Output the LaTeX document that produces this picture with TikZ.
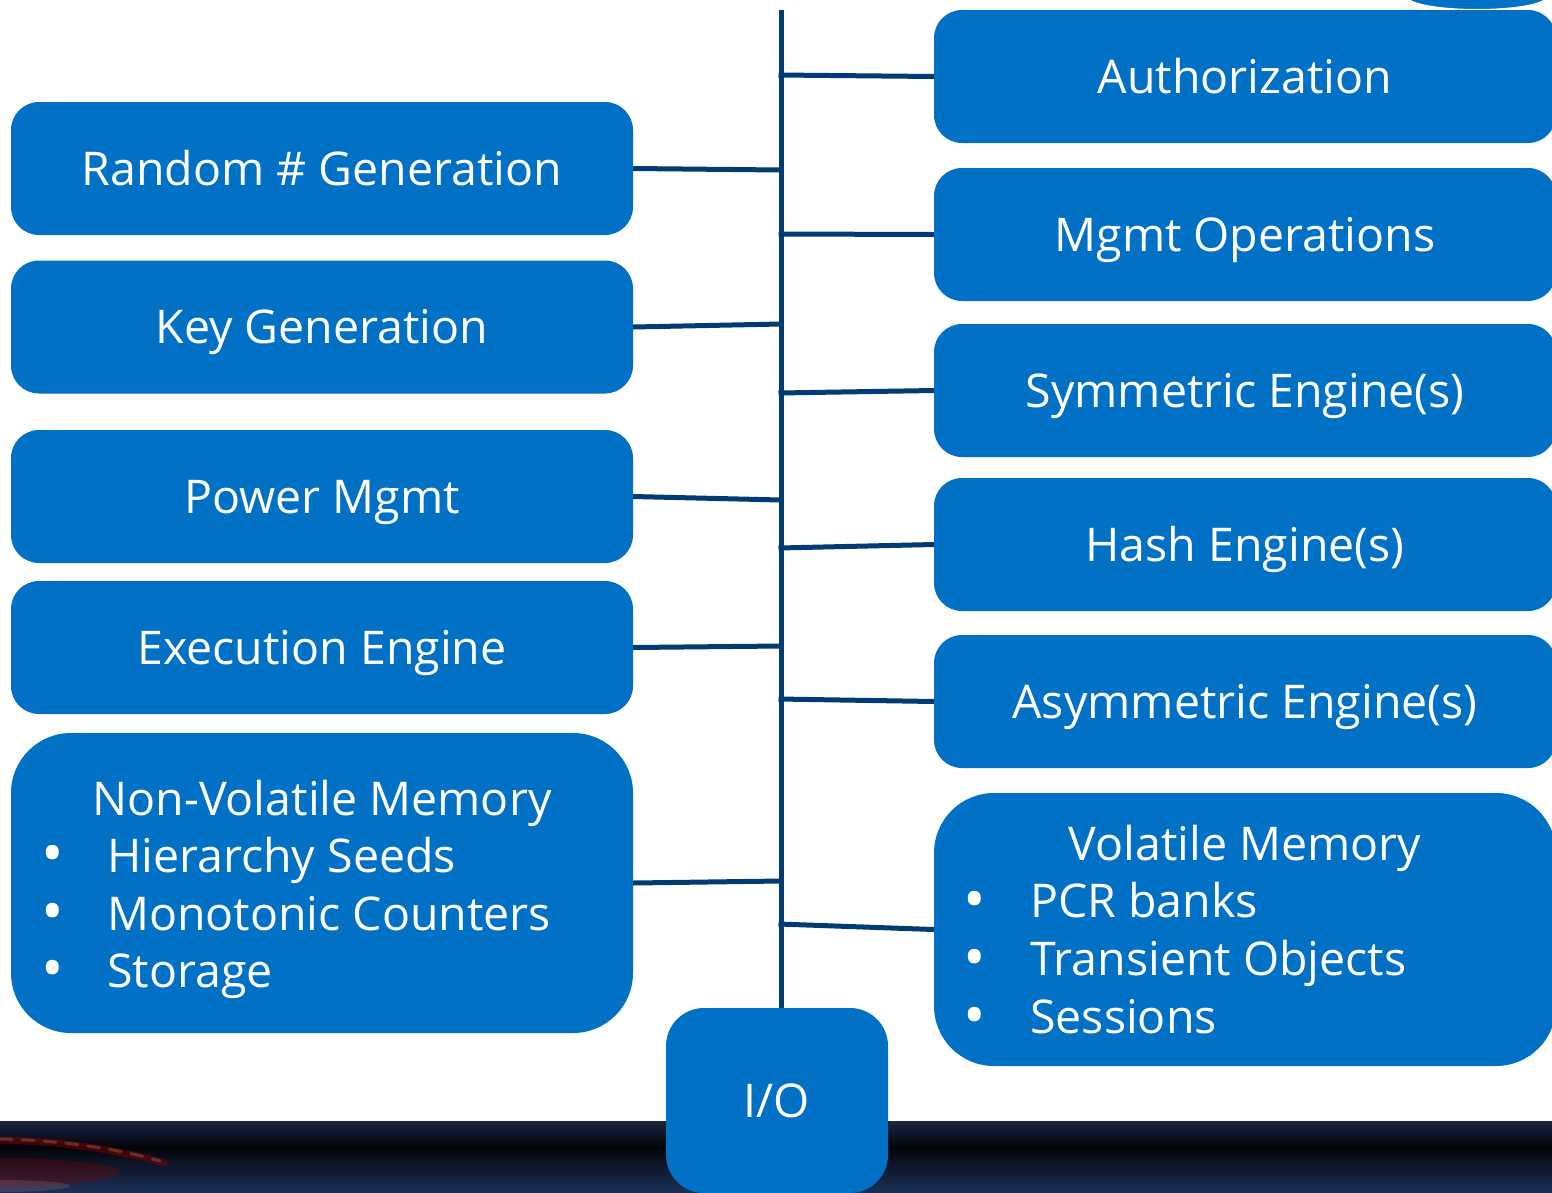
\documentclass[tikz,border=0pt]{standalone}
\usepackage{fontspec}
\setmainfont{Open Sans}
\definecolor{boxblue}{HTML}{0071C5}
\definecolor{busnavy}{HTML}{003B71}
\definecolor{barTop}{HTML}{1A2542}
\definecolor{barMid}{HTML}{030409}
\definecolor{barBot}{HTML}{1B2F55}
\usetikzlibrary{calc}

\begin{document}
\begin{tikzpicture}[x=1pt,y=-1pt,
  lbl/.style={text=white,font=\fontsize{46.5}{57}\selectfont,inner sep=0pt},
  dot/.style={text=white,font=\fontsize{60}{60}\selectfont,inner sep=0pt},
  unitbox/.style={lbl,fill=boxblue,rounded corners=28pt,minimum width=622pt,
    minimum height=133pt,text height=33pt,text depth=0pt,outer sep=0pt},
  membox/.style={fill=boxblue,rounded corners=60pt,minimum width=622pt,
    inner sep=0pt,outer sep=0pt},
  link/.style={draw=busnavy,line width=5pt},
]
\useasboundingbox (0,0) rectangle (1552,1192);
\clip (0,0) rectangle (1552,1192);
\fill[white] (0,0) rectangle (1552,1192);

% dark band along the bottom
\fill[top color=barTop,bottom color=barMid] (0,1121) rectangle (1552,1147);
\fill[top color=barMid,bottom color=barBot] (0,1146.5) rectangle (1552,1192);
% soft glow streaks on the left of the band
\fill[red!55!black,opacity=0.28] (0,1172) ellipse [x radius=120pt,y radius=14pt];
\fill[red!40!white,opacity=0.16] (0,1186) ellipse [x radius=70pt,y radius=6pt];
\draw[red!60!black,opacity=0.4,line width=7pt,line cap=round]
  (0,1140) .. controls (60,1141) and (120,1150) .. (165,1163);
\draw[orange!50!white,opacity=0.22,line width=3pt,line cap=round,dash pattern=on 12pt off 10pt]
  (0,1139) .. controls (60,1140) and (120,1149) .. (160,1161);

% partial emblem at the top right
\fill[boxblue,draw=white,line width=2pt] (1477,-3) ellipse [x radius=70pt,y radius=13pt];

% left column
\node[unitbox] (rng)  at (322,168.5) {Random \# Generation};
\node[unitbox] (key)  at (322,327)   {Key Generation};
\node[unitbox] (pwr)  at (322,496.5) {Power Mgmt};
\node[unitbox] (exe)  at (322,647.5) {Execution Engine};
\node[membox,minimum height=300pt] (nvm) at (322,883) {};

% right column
\node[unitbox] (auth) at (1245,76.5)  {Authorization};
\node[unitbox] (mgmt) at (1245,234.5) {Mgmt Operations};
\node[unitbox] (sym)  at (1245,390.5) {Symmetric Engine(s)};
\node[unitbox] (hash) at (1245,544.5) {Hash Engine(s)};
\node[unitbox] (asym) at (1245,701.5) {Asymmetric Engine(s)};
\node[membox,minimum height=273pt] (vol) at (1245,929.5) {};

% I/O block under the bus
\node[unitbox,minimum width=222pt,minimum height=185pt,rounded corners=38pt] (io)
  at (777,1100.5) {I/O};

% memory contents
\node[lbl,anchor=base] (nvmtitle) at (322,815) {Non-Volatile Memory};
\node[dot] (nvmb1) at (53,860) {•};
\node[dot] (nvmb2) at (53,918) {•};
\node[dot] (nvmb3) at (53,975) {•};
\node[lbl,anchor=base west] (nvmi1) at (107,872) {Hierarchy Seeds};
\node[lbl,anchor=base west] (nvmi2) at (107,930) {Monotonic Counters};
\node[lbl,anchor=base west] (nvmi3) at (107,987) {Storage};

\node[lbl,anchor=base] (voltitle) at (1245,860) {Volatile Memory};
\node[dot] (volb1) at (975,906)  {•};
\node[dot] (volb2) at (975,964)  {•};
\node[dot] (volb3) at (975,1022) {•};
\node[lbl,anchor=base west] (voli1) at (1030,917)  {PCR banks};
\node[lbl,anchor=base west] (voli2) at (1030,975)  {Transient Objects};
\node[lbl,anchor=base west] (voli3) at (1030,1033) {Sessions};

% the bus and its taps
\coordinate (bustop) at (781,10);
\coordinate (t-rng)  at (781,170);
\coordinate (t-key)  at (781,324);
\coordinate (t-pwr)  at (781,500);
\coordinate (t-exe)  at (781,646);
\coordinate (t-nvm)  at (781,881);
\coordinate (t-auth) at (778.5,75);
\coordinate (t-mgmt) at (778.5,234);
\coordinate (t-sym)  at (778.5,393);
\coordinate (t-hash) at (778.5,548);
\coordinate (t-asym) at (778.5,699);
\coordinate (t-vol)  at (778.5,924);

\draw[link] (bustop) -- (bustop |- io.north);
\draw[link] (rng.east)  -- (t-rng);
\draw[link] (key.east)  -- (t-key);
\draw[link] (pwr.east)  -- (t-pwr);
\draw[link] (exe.east)  -- (t-exe);
\draw[link] (nvm.east)  -- (t-nvm);
\draw[link] (t-auth) -- (auth.west);
\draw[link] (t-mgmt) -- (mgmt.west);
\draw[link] (t-sym)  -- (sym.west);
\draw[link] (t-hash) -- (hash.west);
\draw[link] (t-asym) -- (asym.west);
\draw[link] (t-vol)  -- (vol.west);
\end{tikzpicture}
\end{document}
